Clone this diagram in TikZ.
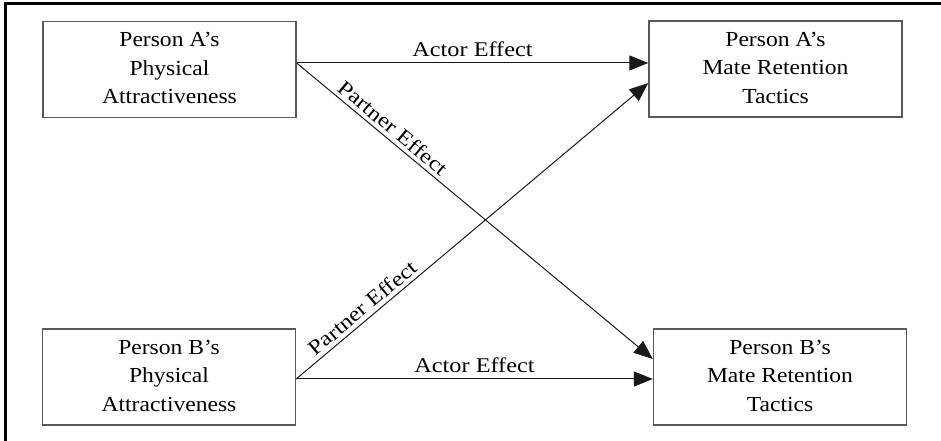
\documentclass[tikz,border=0pt]{standalone}
\usepackage{fontspec}
\setmainfont{Liberation Serif}
\usetikzlibrary{arrows.meta,calc}
\newcommand{\boxtxt}[1]{\scalebox{1.1}[1]{\begin{tabular}{@{}c@{}}#1\end{tabular}}}
\newcommand{\labtxt}[1]{\scalebox{1.16}[1]{#1}}
\begin{document}
\begin{tikzpicture}[x=1bp,y=-1bp,
  box/.style={draw=black!65, line width=1.3bp, minimum width=253bp, minimum height=96bp,
    align=center, inner sep=0pt, font=\fontsize{21.5}{28.5}\selectfont},
  link/.style={draw=black!90, line width=1bp, -{Triangle[length=19bp,width=15bp]}},
  lab/.style={font=\fontsize{21}{24}\selectfont, inner sep=0pt}]
\useasboundingbox (0,0) rectangle (941,441);
\draw[line width=3bp] (5,441) -- (5,4) -- (941,4);
\node[box] (A) at (169.5,69.5) {\boxtxt{Person A’s\\Physical\\Attractiveness}};
\node[box] (RA) at (775.5,69) {\boxtxt{Person A’s\\Mate Retention\\Tactics}};
\node[box] (B) at (169,377) {\boxtxt{Person B’s\\Physical\\Attractiveness}};
\node[box] (RB) at (780,377) {\boxtxt{Person B’s\\Mate Retention\\Tactics}};
\draw[link] ($(A.east)+(0,-6.5)$) -- node[lab, above=6bp] {\labtxt{Actor Effect}} ($(RA.west)+(0,-6)$);
\draw[link] ($(A.east)+(0,-6.5)$) -- node[lab, above=4bp, sloped, pos=0.25] {\labtxt{Partner Effect}} ($(RB.west)+(0,-18)$);
\draw[link] ($(B.east)+(0,2)$) -- node[lab, above=6bp] {\labtxt{Actor Effect}} (RB.west |- {$(B.east)+(0,2)$});
\draw[link] ($(B.east)+(0,2)$) -- node[lab, above=4bp, sloped, pos=0.21] {\labtxt{Partner Effect}} ($(RA.west)+(0,14)$);
\end{tikzpicture}
\end{document}
